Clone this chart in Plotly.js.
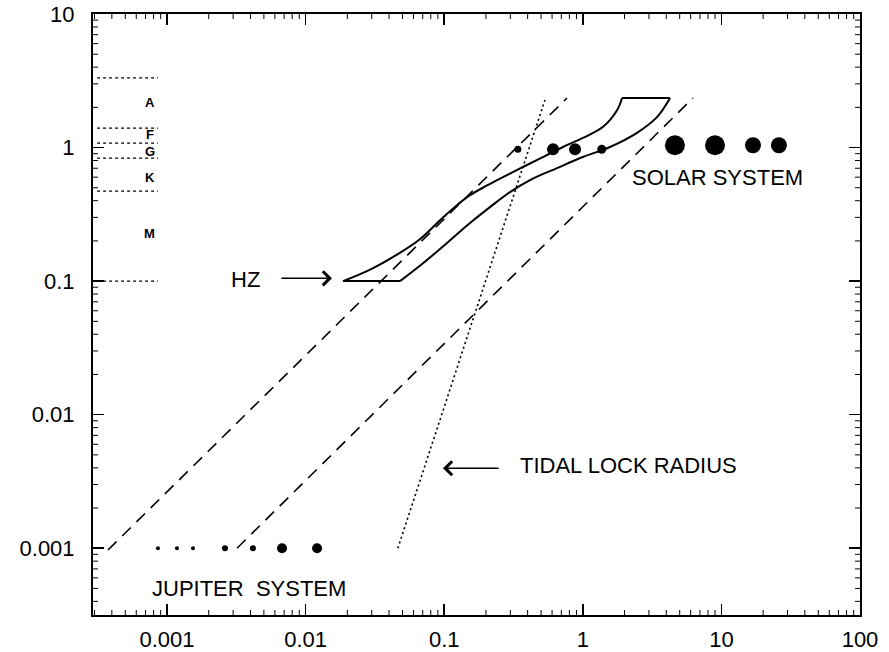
<!DOCTYPE html>
<html>
<head>
<meta charset="utf-8">
<script src="https://cdn.plot.ly/plotly-3.0.1.min.js"></script>
<style>html,body{margin:0;padding:0;background:#fff;}#chart{width:889px;height:652px;}</style>
</head>
<body>
<div id="chart"></div>
<script>
// ---- data ----
// habitable zone boundaries (x: distance AU, y: stellar mass)
const hzInnerX = [0.0186, 0.0292, 0.0456, 0.0668, 0.0933, 0.1236, 0.1535, 0.2037, 0.2655, 0.370, 0.516, 0.719, 1.00, 1.40, 1.77, 1.92];
const hzInnerY = [0.100, 0.122, 0.158, 0.206, 0.286, 0.370, 0.440, 0.520, 0.601, 0.715, 0.849, 1.01, 1.18, 1.43, 1.91, 2.35];
const hzOuterX = [0.048, 0.0703, 0.1047, 0.1535, 0.2138, 0.2985, 0.416, 0.652, 1.00, 1.57, 2.46, 3.43, 4.26];
const hzOuterY = [0.100, 0.136, 0.193, 0.272, 0.358, 0.464, 0.571, 0.702, 0.849, 1.01, 1.29, 1.69, 2.35];
// dashed reference lines
const dash1X = [0.000375, 0.769];
const dash1Y = [0.00097, 2.35];
const dash2X = [0.0032, 6.24];
const dash2Y = [0.001, 2.35];
// tidal lock radius
const tidalX = [0.0463, 0.533];
const tidalY = [0.001, 2.27];
// spectral class boundaries
const classBounds = [3.32, 1.40, 1.08, 0.834, 0.472, 0.1];
const classLineX = [0.000313, 0.00086];
const classLabels = ["A", "F", "G", "K", "M"];
const classLabelY = [2.19, 1.26, 0.941, 0.601, 0.229];
// Jupiter system moons
const jupX = [0.00086, 0.00118, 0.00154, 0.00262, 0.00417, 0.00676, 0.0121];
const jupY = [0.001, 0.001, 0.001, 0.001, 0.001, 0.001, 0.001];
const jupSize = [4, 4, 4, 6, 6, 10, 10];
// Solar system planets
const solX = [0.340, 0.610, 0.879, 1.37, 4.62, 8.99, 16.9, 26.0];
const solY = [0.97, 0.97, 0.97, 0.97, 1.04, 1.04, 1.04, 1.04];
const solSize = [7, 12, 12, 9, 20, 20, 16, 16];
// axis ticks (labels render as 0.001 … 100)
const xTickVals = [0.001, 0.01, 0.1, 1, 10, 100];
const yTickVals = [0.001, 0.01, 0.1, 1, 10];

// ---- build ----
const FONT = "Liberation Sans, Arial, sans-serif";
const XR = [-3.534, 2], YR = [-3.5, 1];
const PW = 767, PH = 601;
const traces = [];
const ln = (x, y, extra) => Object.assign({x, y, mode: 'lines', type: 'scatter', hoverinfo: 'skip', showlegend: false}, extra);

traces.push(ln(hzInnerX, hzInnerY, {line: {color: '#000', width: 2, shape: 'spline', smoothing: 1}}));
traces.push(ln(hzOuterX, hzOuterY, {line: {color: '#000', width: 2, shape: 'spline', smoothing: 1}}));
traces.push(ln([hzInnerX[0], hzOuterX[0]], [hzInnerY[0], hzOuterY[0]], {line: {color: '#000', width: 2}}));
traces.push(ln([hzInnerX[hzInnerX.length - 1], hzOuterX[hzOuterX.length - 1]], [hzInnerY[hzInnerY.length - 1], hzOuterY[hzOuterY.length - 1]], {line: {color: '#000', width: 2}}));
traces.push(ln(dash1X, dash1Y, {line: {color: '#000', width: 1.6, dash: '12px,8px'}}));
traces.push(ln(dash2X, dash2Y, {line: {color: '#000', width: 1.6, dash: '12px,8px'}}));
traces.push(ln(tidalX, tidalY, {line: {color: '#000', width: 1.6, dash: '2px,3px'}}));
classBounds.forEach(b => traces.push(ln(classLineX, [b, b], {line: {color: '#000', width: 1.3, dash: '3px,3px'}})));
traces.push({x: jupX, y: jupY, mode: 'markers', type: 'scatter', hoverinfo: 'skip', showlegend: false,
  marker: {color: 'black', opacity: 1, size: jupSize, line: {width: 0}}});
traces.push({x: solX, y: solY, mode: 'markers', type: 'scatter', hoverinfo: 'skip', showlegend: false,
  marker: {color: 'black', opacity: 1, size: solSize, line: {width: 0}}});

const annotations = [];
classLabels.forEach((t, i) => annotations.push({x: Math.log10(0.000753), y: Math.log10(classLabelY[i]), xref: 'x', yref: 'y',
  text: '<b>' + t + '</b>', showarrow: false, font: {family: FONT, size: 13, color: '#000'}}));
annotations.push({x: Math.log10(0.00366), y: Math.log10(0.1035), xref: 'x', yref: 'y', text: 'HZ', showarrow: false,
  font: {family: FONT, size: 22, color: '#000'}});
annotations.push({x: Math.log10(0.0155), y: Math.log10(0.105), ax: Math.log10(0.00653), ay: Math.log10(0.105),
  xref: 'x', yref: 'y', axref: 'x', ayref: 'y', text: '', showarrow: true, arrowhead: 4, arrowsize: 1.8, arrowwidth: 1.5, arrowcolor: '#000'});
annotations.push({x: Math.log10(0.340), y: Math.log10(0.00419), xref: 'x', yref: 'y', xanchor: 'left', text: 'TIDAL LOCK RADIUS', showarrow: false,
  font: {family: FONT, size: 22, color: '#000'}});
annotations.push({x: Math.log10(0.098), y: Math.log10(0.00397), ax: Math.log10(0.253), ay: Math.log10(0.00397),
  xref: 'x', yref: 'y', axref: 'x', ayref: 'y', text: '', showarrow: true, arrowhead: 4, arrowsize: 1.8, arrowwidth: 1.5, arrowcolor: '#000'});
annotations.push({x: Math.log10(9.44), y: Math.log10(0.601), xref: 'x', yref: 'y', text: 'SOLAR SYSTEM', showarrow: false,
  font: {family: FONT, size: 22, color: '#000'}});
annotations.push({x: Math.log10(0.00391), y: Math.log10(0.000501), xref: 'x', yref: 'y', text: 'JUPITER&nbsp;&nbsp;SYSTEM', showarrow: false,
  font: {family: FONT, size: 22, color: '#000'}});

// minor tick marks (2..9 in each decade) on all four sides, as short paper-space lines
const shapes = [];
const tickLine = (x0, y0, x1, y1) => shapes.push({type: 'line', xref: 'paper', yref: 'paper', x0, y0, x1, y1,
  line: {color: '#000', width: 1}, layer: 'above'});
for (let e = -4; e <= 2; e++) {
  for (let m = 2; m <= 9; m++) {
    const L = Math.log10(m) + e;
    if (L > XR[0] && L < XR[1]) {
      const fx = (L - XR[0]) / (XR[1] - XR[0]);
      tickLine(fx, 0, fx, 5 / PH);
      tickLine(fx, 1, fx, 1 - 5 / PH);
    }
    if (L > YR[0] && L < YR[1]) {
      const fy = (L - YR[0]) / (YR[1] - YR[0]);
      tickLine(0, fy, 5 / PW, fy);
      tickLine(1, fy, 1 - 5 / PW, fy);
    }
  }
}

const axisCommon = {
  type: 'log', showline: true, linewidth: 2, linecolor: '#000', mirror: 'ticks',
  ticks: 'inside', ticklen: 11, tickwidth: 1.5, tickcolor: '#000',
  showgrid: false, zeroline: false, tickmode: 'array',
  tickfont: {family: FONT, size: 22, color: '#000'}
};
const layout = {
  width: 889, height: 652, margin: {l: 93, r: 29, t: 14, b: 37},
  paper_bgcolor: '#fff', plot_bgcolor: '#fff', showlegend: false,
  xaxis: Object.assign({}, axisCommon, {range: XR, tickvals: xTickVals, ticklabelstandoff: 4}),
  yaxis: Object.assign({}, axisCommon, {range: YR, tickvals: yTickVals, ticklabelstandoff: 12}),
  annotations: annotations,
  shapes: shapes
};
Plotly.newPlot('chart', traces, layout, {staticPlot: true, displayModeBar: false});
</script>
</body>
</html>
